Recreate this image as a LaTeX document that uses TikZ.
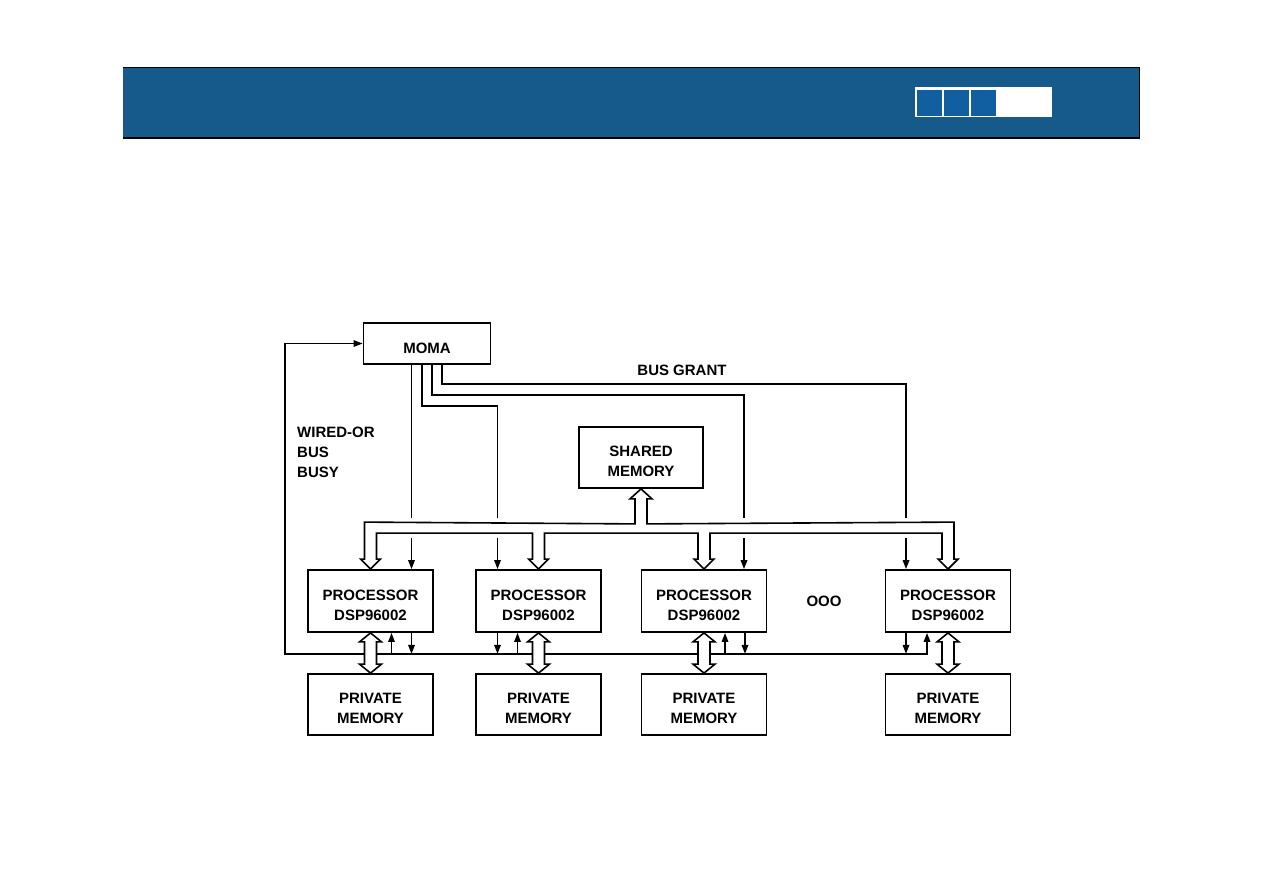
\documentclass[tikz,border=0pt]{standalone}
\usepackage{fontspec}
\setmainfont{Liberation Sans}
\usetikzlibrary{calc,arrows.meta}
\definecolor{hdr}{RGB}{21,90,139}
\definecolor{sqb}{RGB}{17,94,160}
\begin{document}
\begin{tikzpicture}[x=1pt,y=-1pt,
  box/.style={draw, line width=1.8pt, inner sep=0pt, minimum width=125pt, minimum height=61pt},
  txt/.style={font=\fontsize{15}{20}\selectfont\bfseries, align=center, inner sep=0pt},
  ln/.style={line width=1.6pt},
  tip/.tip={Triangle[length=9pt,width=6.5pt]},
  arr/.style={ln, -tip},
  hollow/.style={line width=1.6pt, fill=white, line join=miter}
]
\useasboundingbox (0,0) rectangle (1263,894);
\fill[white] (0,0) rectangle (1263,894);

% header bar
\fill[hdr] (123,67) rectangle (1140,138);
\draw[line width=1pt] (123,67) -- (1140,67);
\draw[line width=2pt] (123,137.5) -- (1140,137.5);
\draw[line width=1.5pt] (1139.5,67) -- (1139.5,138.5);
\fill[white] (915,87) rectangle (1052,117);
\fill[sqb] (917,90) rectangle (942,116);
\fill[sqb] (944,90) rectangle (969,116);
\fill[sqb] (971,90) rectangle (996,116);

% boxes
\node[box, minimum width=127pt, minimum height=41pt] (moma) at (427,343.5) {};
\node[txt] (momat) at (427,348.5) {MOMA};
\node[box, minimum width=124pt] (sm) at (641,457.5) {};
\node[txt] (smt) at (641,461) {SHARED\\MEMORY};
\foreach \i/\x in {1/370.5,2/538.5,3/704,4/948} {
  \node[box, minimum height=62pt] (p\i) at (\x,601) {};
  \node[txt] (pt\i) at (\x,605) {PROCESSOR\\DSP96002};
  \node[box] (m\i) at (\x,704.5) {};
  \node[txt] (mt\i) at (\x,708) {PRIVATE\\MEMORY};
}

% labels
\node[txt, anchor=west, align=left] (wob) at (297,452) {WIRED-OR\\BUS\\BUSY};
\node[txt] (bg) at (682,370) {BUS GRANT};
\node[txt] (dots) at (824,601) {OOO};

% bus grant lines
\coordinate (g1) at ($(p1.north)+(41,-31)$);
\coordinate (g2) at ($(p2.north)+(-41,-31)$);
\coordinate (g3) at ($(p3.north)+(40,-31)$);
\coordinate (g4) at ($(p4.north)+(-42,-31)$);
\draw[ln] (moma.south -| g1) -- ($(g1)+(0,-20)$);
\draw[ln] ([xshift=-5pt]moma.south) |- ($(g2)+(0,-132)$) -- ($(g2)+(0,-20)$);
\draw[ln] ([xshift=5pt]moma.south) |- ($(g3)+(0,-143)$) -- ($(g3)+(0,-20)$);
\draw[ln] ([xshift=15pt]moma.south) |- ($(g4)+(0,-154)$) -- ($(g4)+(0,-20)$);
\foreach \i in {1,2,3,4} { \draw[arr] (g\i) -- (p\i.north -| g\i); }

% wired-or bus busy
\coordinate (w4) at ($(p4.south)+(-21,21)$);
\draw[ln, tip-tip] (moma.west) -- ++(-77.5,0) |- (w4) -- (p4.south -| w4);
\foreach \i/\s in {1/1,2/-1,3/1} {
  \draw[arr] ($(p\i.south)+(21*\s,21)$) -- ($(p\i.south)+(21*\s,0)$);
}
\foreach \i/\d in {1/41,2/-41,3/41,4/-42} {
  \draw[arr] ($(p\i.south)+(\d,0)$) -- ($(p\i.south)+(\d,21)$);
}

% shared bus (hollow)
\draw[hollow]
  ($(p1.north)+(-6,-47)$) -- ($(sm.south)+(-6,35)$) -- ($(sm.south)+(-6,10)$) -- ($(sm.south)+(-11,10)$)
  -- (sm.south) -- ($(sm.south)+(11,10)$) -- ($(sm.south)+(6,10)$) -- ($(sm.south)+(6,35)$)
  -- ($(p4.north)+(6,-47)$) -- ($(p4.north)+(6,-10)$) -- ($(p4.north)+(10,-10)$) -- (p4.north)
  -- ($(p4.north)+(-10,-10)$) -- ($(p4.north)+(-6,-10)$) -- ($(p4.north)+(-6,-36)$)
  -- ($(p3.north)+(6,-36)$) -- ($(p3.north)+(6,-10)$) -- ($(p3.north)+(10,-10)$) -- (p3.north)
  -- ($(p3.north)+(-10,-10)$) -- ($(p3.north)+(-6,-10)$) -- ($(p3.north)+(-6,-36)$)
  -- ($(p2.north)+(6,-36)$) -- ($(p2.north)+(6,-10)$) -- ($(p2.north)+(10,-10)$) -- (p2.north)
  -- ($(p2.north)+(-10,-10)$) -- ($(p2.north)+(-6,-10)$) -- ($(p2.north)+(-6,-36)$)
  -- ($(p1.north)+(6,-36)$) -- ($(p1.north)+(6,-10)$) -- ($(p1.north)+(10,-10)$) -- (p1.north)
  -- ($(p1.north)+(-10,-10)$) -- ($(p1.north)+(-6,-10)$) -- cycle;

% private memory double arrows
\foreach \i in {1,2,3,4} {
  \draw[hollow] (p\i.south) -- ($(p\i.south)+(11,9)$) -- ($(p\i.south)+(6,9)$) -- ($(m\i.north)+(6,-9)$)
    -- ($(m\i.north)+(11,-9)$) -- (m\i.north) -- ($(m\i.north)+(-11,-9)$) -- ($(m\i.north)+(-6,-9)$)
    -- ($(p\i.south)+(-6,9)$) -- ($(p\i.south)+(-11,9)$) -- cycle;
}
\end{tikzpicture}
\end{document}
